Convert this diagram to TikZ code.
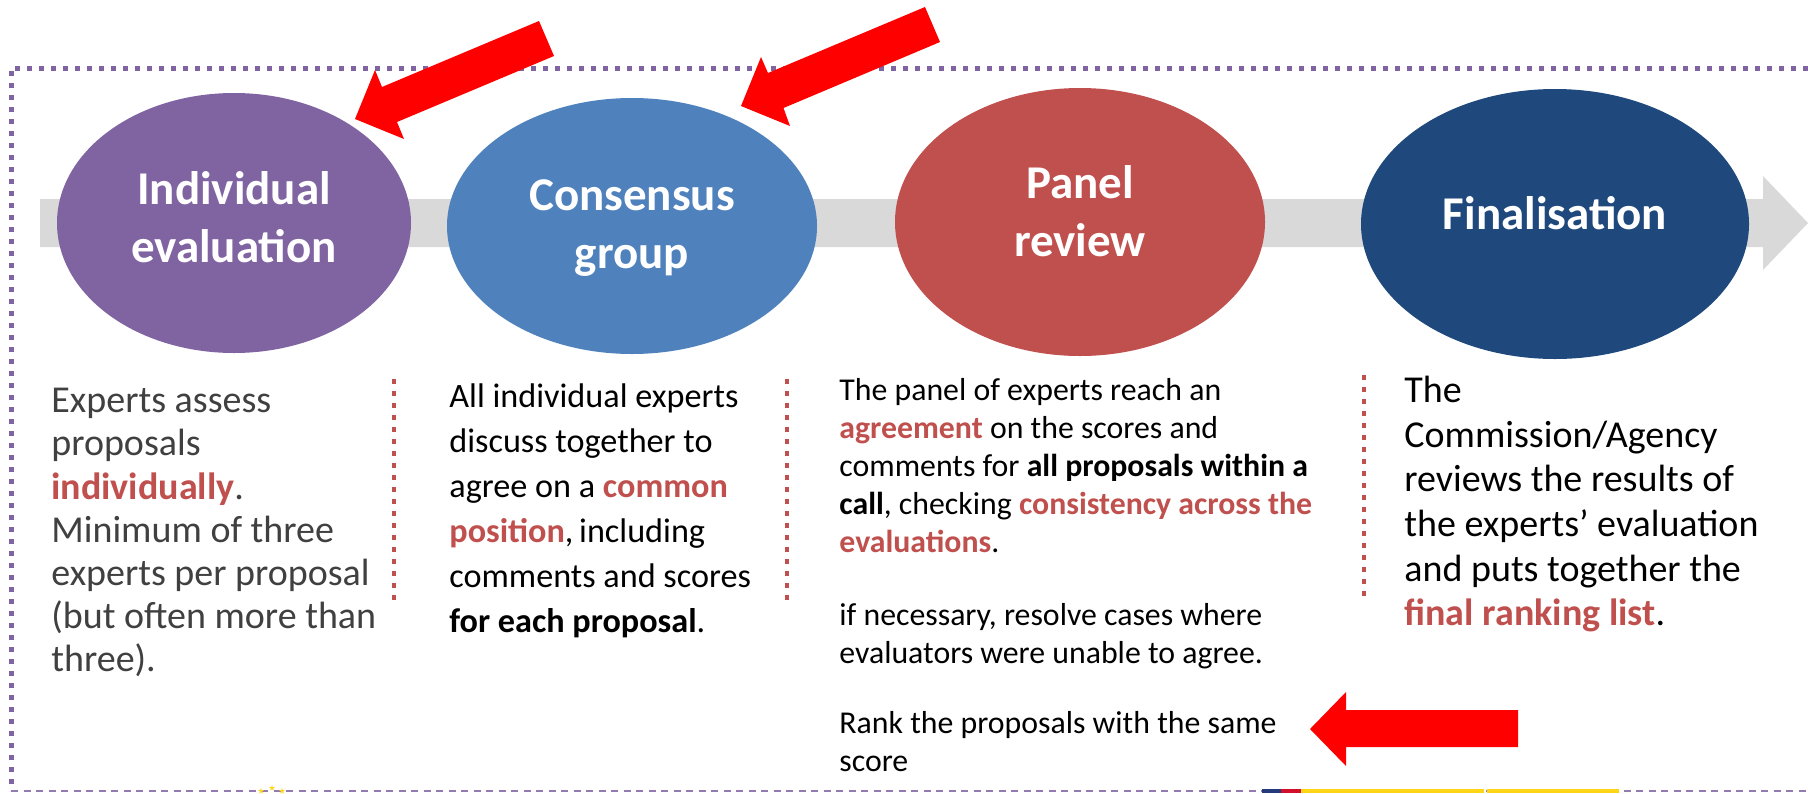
\documentclass[tikz,border=0pt]{standalone}
\usepackage{fontspec}
\setmainfont{Carlito}
\usetikzlibrary{shapes.geometric}

\definecolor{evalpurple}{HTML}{8064A2}
\definecolor{evalblue}{HTML}{4F81BD}
\definecolor{evalred}{HTML}{C0504D}
\definecolor{evalnavy}{HTML}{1F497D}
\definecolor{bandgray}{HTML}{D9D9D9}
\definecolor{textgray}{HTML}{404040}
\definecolor{flagnavy}{HTML}{243A7A}
\definecolor{flagred}{HTML}{D2102C}
\definecolor{flagyellow}{HTML}{FFD617}

\newcommand{\redbf}[1]{\textcolor{evalred}{\bfseries #1}}

\begin{document}
\begin{tikzpicture}[x=0.5pt, y=-0.5pt,                  % one unit is one pixel of the slide
    stage/.style={ellipse, inner sep=0pt},
    stagetext/.style={text=white, align=center, inner sep=0pt,
        font=\fontsize{23.5}{29}\selectfont\bfseries},
    coltext/.style={anchor=north west, inner sep=0pt, align=left},
    divider/.style={evalred, line width=2.25pt, dash pattern=on 2.5pt off 3.5pt},
    bigarrow/.style={fill=red}]
    \useasboundingbox (0,0) rectangle (1808,793);

    % grey process arrow behind the stages
    \fill[bandgray] (40,199) -- (1763,199) -- (1763,176) -- (1808,223)
        -- (1763,270) -- (1763,247) -- (40,247) -- cycle;

    % frame: dotted top and left, dashed bottom
    \draw[evalpurple, line width=2.5pt, dash pattern=on 2.5pt off 3.5pt] (1808,68) -- (11,68) -- (11,791);
    \draw[evalpurple!85, line width=1pt, dash pattern=on 3.5pt off 2.75pt] (11,791) -- (1808,791);

    % the four stages
    \node[stage, fill=evalpurple, minimum width=177pt, minimum height=130pt] (ind) at (234,223) {};
    \node[stage, fill=evalblue, minimum width=185pt, minimum height=128pt] (cons) at (632,226) {};
    \node[stage, fill=evalred, minimum width=185pt, minimum height=134pt] (panel) at (1080,222) {};
    \node[stage, fill=evalnavy, minimum width=194pt, minimum height=135pt] (final) at (1555,224) {};

    \node[stagetext] (indtext) at (234,217.5) {Individual\\evaluation};
    \node[stagetext] (constext) at (632,228.5) {Consensus\\group};
    \node[stagetext] (paneltext) at (1080,211) {Panel\\review};
    \node[stagetext] (finaltext) at (1555,213.5) {Finalisation};

    % what happens at each stage
    \node[coltext, text=textgray, font=\fontsize{19}{21.6}\selectfont] (indnote) at (51,382)
        {\strut Experts assess\\proposals\\\redbf{individually}.\\Minimum of three\\experts per proposal\\(but often more than\\three).};
    \node[coltext, font=\fontsize{17.1}{22.5}\selectfont] (consnote) at (449,376)
        {\strut All individual experts\\discuss together to\\agree on a \redbf{common}\\\redbf{position},\,including\\comments and scores\\\textbf{for each proposal}.};
    \node[coltext, font=\fontsize{15.9}{19}\selectfont] (panelnote) at (839,373)
        {\strut The panel of experts reach an\\\redbf{agreement} on the scores and\\comments for \textbf{all proposals within a}\\\textbf{call}, checking \redbf{consistency across the}\\\redbf{evaluations}.};
    \node[coltext, font=\fontsize{15.9}{19}\selectfont] (panelcases) at (839,598)
        {\strut if necessary, resolve cases where\\evaluators were unable to agree.};
    \node[coltext, font=\fontsize{15.9}{19}\selectfont] (panelrank) at (839,706)
        {\strut Rank the proposals with the same\\score};
    \node[coltext, font=\fontsize{19}{22.3}\selectfont] (finalnote) at (1404,371)
        {\strut The\\Commission/Agency\\reviews the results of\\the experts’ evaluation\\and puts together the\\\redbf{final ranking list}.};

    % dotted separators between the columns
    \draw[divider] (394,379) -- (394,600);
    \draw[divider] (787,379) -- (787,600);
    \draw[divider] (1364,375) -- (1364,597);

    % red block arrows
    \fill[bigarrow] (539,21) -- (554,56) -- (397,122) -- (404,139) -- (355,119) -- (375,70) -- (382,87) -- cycle;
    \fill[bigarrow] (925,7) -- (940,42) -- (783.5,108) -- (790,126) -- (741,106) -- (761,57) -- (768,73) -- cycle;
    \fill[bigarrow] (1310,729) -- (1346,692) -- (1346,710) -- (1518,710) -- (1518,747) -- (1346,747) -- (1346,766) -- cycle;

    % bits of the logos cut off at the bottom edge
    \foreach \sx/\sy [count=\k] in {261/791, 272/788, 282/791}
        \node[star, star points=5, star point ratio=2.4, fill=flagyellow, inner sep=0pt, minimum size=3pt] (star\k) at (\sx,\sy) {};
    \fill[flagnavy] (1262,789) rectangle (1281,793);
    \fill[flagred] (1281,789) rectangle (1301,793);
    \fill[flagyellow] (1301,789) rectangle (1484,793);
    \fill[flagyellow] (1487,789) rectangle (1619,793);
\end{tikzpicture}
\end{document}
